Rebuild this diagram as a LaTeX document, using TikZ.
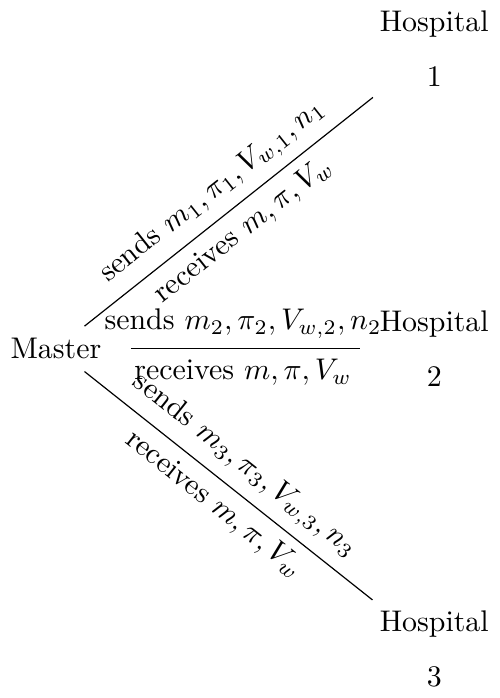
\documentclass[tikz,border=0pt]{standalone}
\usepackage{amsmath}
\usepackage{tikz}
\usetikzlibrary{positioning}

\begin{document}
\begin{tikzpicture}[hospital/.style={align=center}, master/.style={minimum height=14.8pt}]
  \node[master] (master) at (0,0) {Master};
  \node[hospital] (hosp1) at (4.45,3.53) {Hospital\\[6.6pt]1};
  \node[hospital] (hosp2) at (4.45,0) {Hospital\\[6.6pt]2};
  \node[hospital] (hosp3) at (4.45,-3.53) {Hospital\\[6.6pt]3};

  \draw (master) -- node[above, sloped] {sends $m_1, \pi_1, V_{w,1}, n_1$}
                    node[below, sloped] {receives $m, \pi, V_w$} (hosp1);
  \draw[shorten <=6.4pt, shorten >=3.1pt] (master) -- node[above, pos=0.51] {sends $m_2, \pi_2, V_{w,2}, n_2$}
                    node[below, pos=0.51] {receives $m, \pi, V_w$} (hosp2);
  \draw (master) -- node[above, sloped] {sends $m_3, \pi_3, V_{w,3}, n_3$}
                    node[below, sloped] {receives $m, \pi, V_w$} (hosp3);

  \pgfresetboundingbox
  \path[use as bounding box] (hosp1.north -| master.west) rectangle (hosp3.south east);
\end{tikzpicture}
\end{document}
